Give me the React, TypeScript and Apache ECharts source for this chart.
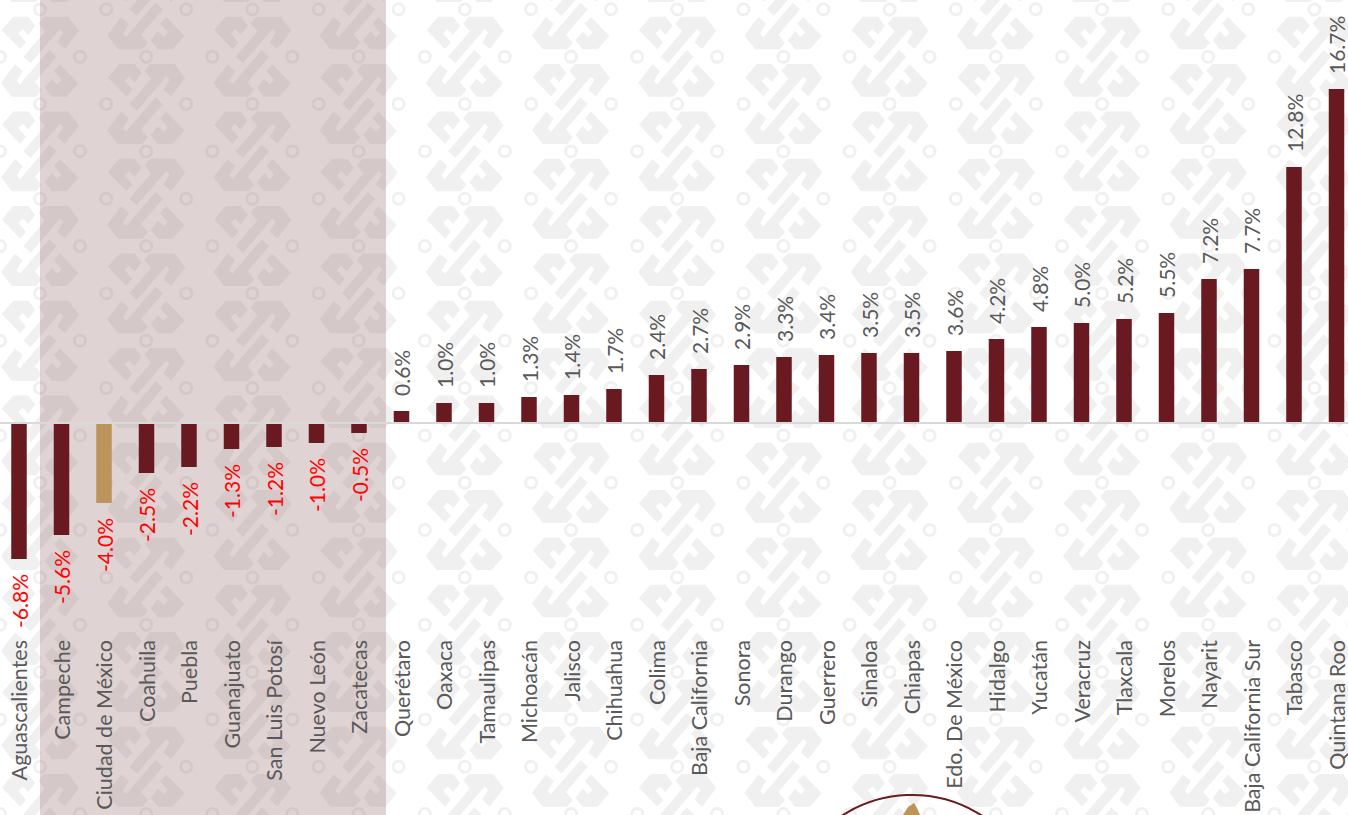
import React, { useEffect, useRef } from "react";
import * as echarts from "echarts";

const categories = ["Aguascalientes","Campeche","Ciudad de México","Coahuila","Puebla","Guanajuato","San Luis Potosí","Nuevo León","Zacatecas","Querétaro","Oaxaca","Tamaulipas","Michoacán","Jalisco","Chihuahua","Colima","Baja California","Sonora","Durango","Guerrero","Sinaloa","Chiapas","Edo. De México","Hidalgo","Yucatán","Veracruz","Tlaxcala","Morelos","Nayarit","Baja California Sur","Tabasco","Quintana Roo"];
const values = [-6.8,-5.6,-4.0,-2.5,-2.2,-1.3,-1.2,-1.0,-0.5,0.6,1.0,1.0,1.3,1.4,1.7,2.4,2.7,2.9,3.3,3.4,3.5,3.5,3.6,4.2,4.8,5.0,5.2,5.5,7.2,7.7,12.8,16.7];
const highlighted = "Ciudad de México";

const hookPoints = [[-115,-80],[-80,-120],[-35,-120],[-14,-93],[-35,-66],[-52,-83],[-65,-70],[-42,-43],[-60,-23]];
const bandPoints = [[-50,0],[15,-76],[-5,-100],[12,-120],[85,-120],[117,-78],[75,-23],[52,-43],[70,-73],[60,-83],[-28,20]];
const ringCentres = [[-120,0],[120,0],[0,-142]];

const poly = (pts: number[][], sign: number) =>
  pts.map((p, i) => `${i ? "L" : "M"}${p[0] * sign} ${p[1] * sign}`).join(" ") + " Z";
const ring = (c: number[]) => {
  const [x, y] = c;
  const R = 21, r = 12;
  return `M${x + R} ${y} A${R} ${R} 0 1 0 ${x - R} ${y} A${R} ${R} 0 1 0 ${x + R} ${y} Z ` +
    `M${x + r} ${y} A${r} ${r} 0 1 1 ${x - r} ${y} A${r} ${r} 0 1 1 ${x + r} ${y} Z`;
};
const glyphPath = [poly(hookPoints, 1), poly(bandPoints, 1), poly(hookPoints, -1), poly(bandPoints, -1), ...ringCentres.map(ring)].join(" ");
echarts.graphic.registerShape("glyph", echarts.graphic.extendPath(glyphPath, {}));

function watermark() {
  const out: any[] = [];
  for (let c = 0; c < 14; c++) {
    for (let k = -1; k < 10; k++) {
      out.push({
        type: "glyph",
        x: 40 + c * 106.2,
        y: 56.7 + k * 94.67 + (c % 2 ? 47.33 : 0),
        scaleX: 1 / 3,
        scaleY: 1 / 3,
        silent: true,
        z: -3,
        style: { fill: "#f0f0f0" },
      });
    }
  }
  return out;
}

export default function App() {
  const ref = useRef<HTMLDivElement>(null);
  useEffect(() => {
    document.body.style.margin = "0";
    const chart = echarts.init(ref.current!, null, { renderer: "svg" });
    chart.setOption({
      animation: false,
      backgroundColor: "#ffffff",
      graphic: [
        ...watermark(),
        { type: "rect", silent: true, z: -2, shape: { x: 40, y: 0, width: 346, height: 815 }, style: { fill: "rgba(140,92,92,0.27)" } },
        { type: "circle", silent: true, z: -1, shape: { cx: 912, cy: 924, r: 129 }, style: { fill: "none", stroke: "#6b1a22", lineWidth: 2 } },
        { type: "polygon", silent: true, z: -1, shape: { points: [[903, 815], [908, 807], [914, 803], [917, 808], [920, 815]] }, style: { fill: "#bc955c" } },
      ],
      grid: { left: -2.25, width: 1360, top: 3, height: 620, containLabel: false, outerBoundsMode: "none" },
      xAxis: [
        {
          type: "category",
          data: categories,
          z: 5,
          axisLine: { onZero: true, lineStyle: { color: "#d9d9d9", width: 2 } },
          axisTick: { show: false },
          axisLabel: { show: false },
        },
        {
          type: "category",
          data: categories,
          position: "bottom",
          axisLine: { show: false, onZero: false },
          axisTick: { show: false },
          axisLabel: { interval: 0, rotate: 90, margin: 17, color: "#595959", fontFamily: "Lato", fontSize: 21.5 },
        },
      ],
      yAxis: { type: "value", min: -10, max: 21, interval: 1, show: false, splitLine: { show: false } },
      series: [
        {
          type: "bar",
          xAxisIndex: 0,
          barWidth: 15.5,
          data: values.map((v, i) => ({
            value: v,
            itemStyle: { color: categories[i] === highlighted ? "#bc955c" : "#691a21" },
            label: v < 0 ? { position: "bottom", align: "right", color: "#ff0000" } : { position: "top", align: "left", color: "#595959" },
          })),
          label: {
            show: true,
            rotate: 90,
            verticalAlign: "middle",
            distance: 15,
            fontFamily: "Lato",
            fontSize: 21,
            formatter: (p: any) => p.value.toFixed(1) + "%",
          },
        },
      ],
    });
    return () => chart.dispose();
  }, []);
  return <div ref={ref} style={{ width: 1348, height: 815, overflow: "hidden" }} />;
}
